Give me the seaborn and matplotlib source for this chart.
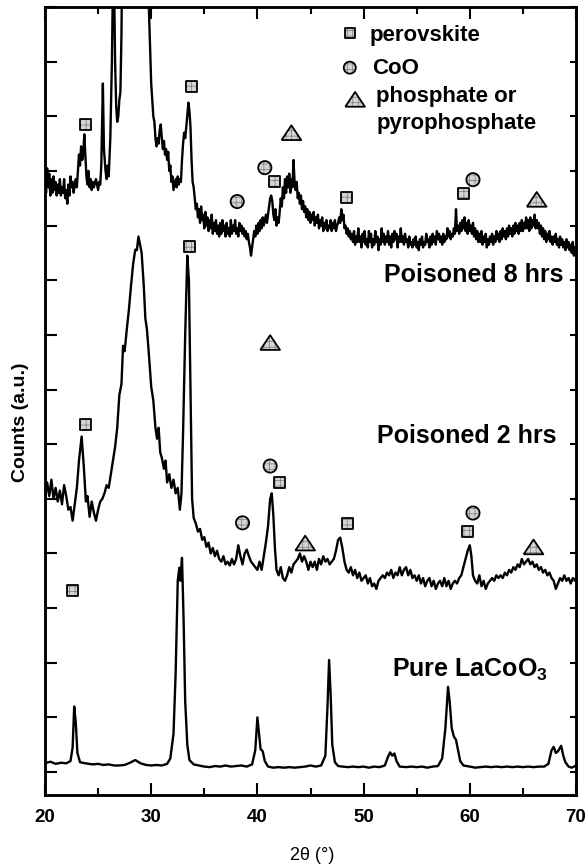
import matplotlib
matplotlib.use("Agg")
import matplotlib.pyplot as plt
import seaborn as sns

sns.set_theme(style="ticks")
plt.rcParams["font.family"] = ["Liberation Sans", "DejaVu Sans"]
plt.rcParams["mathtext.fontset"] = "custom"
plt.rcParams["mathtext.rm"] = "Liberation Sans:bold"
plt.rcParams["mathtext.bf"] = "Liberation Sans:bold"
plt.rcParams["hatch.linewidth"] = 0.5
for key in ["text.color", "axes.labelcolor", "xtick.color", "ytick.color", "axes.edgecolor"]:
    plt.rcParams[key] = "black"

# ---------------- data (2theta in degrees, offset counts in a.u.) ----------------
pure_x = [20.0, 20.5, 21.0, 21.5, 22.0, 22.4, 22.6, 22.75, 22.9, 23.05, 23.3, 23.8, 24.5, 25.0, 25.5,
          26.0, 26.5, 27.0, 27.5, 28.0, 28.5, 29.0, 29.5, 30.0, 30.5, 31.0, 31.5, 31.8, 32.1, 32.3,
          32.5, 32.65, 32.75, 32.9, 33.05, 33.2, 33.4, 33.6, 34.0, 34.5, 35.0, 35.5, 36.0, 36.5, 37.0,
          37.5, 38.0, 38.5, 39.0, 39.5, 39.8, 40.0, 40.15, 40.3, 40.5, 40.7, 41.0, 41.5, 42.0, 42.5,
          43.0, 43.5, 44.0, 44.5, 45.0, 45.5, 46.0, 46.4, 46.6, 46.75, 46.9, 47.05, 47.3, 47.6, 48.0,
          48.5, 49.0, 49.5, 50.0, 50.5, 51.0, 51.5, 52.0, 52.3, 52.5, 52.7, 52.9, 53.1, 53.4, 54.0,
          54.5, 55.0, 55.5, 56.0, 56.5, 57.0, 57.4, 57.7, 57.95, 58.1, 58.3, 58.5, 58.7, 58.9, 59.1,
          59.4, 60.0, 60.5, 61.0, 61.5, 62.0, 62.5, 63.0, 63.5, 64.0, 64.5, 65.0, 65.5, 66.0, 66.5,
          67.0, 67.4, 67.7, 67.9, 68.1, 68.3, 68.6, 68.8, 69.0, 69.3, 69.6, 70.0]
pure_y = [0.16, 0.19, 0.15, 0.17, 0.16, 0.2, 0.45, 1.2, 0.9, 0.35, 0.18, 0.16, 0.14, 0.15, 0.13,
          0.14, 0.12, 0.12, 0.13, 0.17, 0.22, 0.16, 0.13, 0.12, 0.13, 0.12, 0.15, 0.25, 0.7, 1.8,
          3.5, 3.74, 3.5, 3.92, 2.8, 1.3, 0.5, 0.22, 0.14, 0.12, 0.1, 0.09, 0.11, 0.1, 0.12,
          0.1, 0.11, 0.12, 0.1, 0.14, 0.4, 1.0, 0.7, 0.42, 0.38, 0.2, 0.1, 0.08, 0.09, 0.08,
          0.09, 0.08, 0.09, 0.1, 0.12, 0.1, 0.12, 0.3, 1.2, 2.05, 1.4, 0.5, 0.18, 0.11, 0.1,
          0.09, 0.1, 0.09, 0.1, 0.08, 0.1, 0.09, 0.12, 0.28, 0.36, 0.3, 0.34, 0.2, 0.1, 0.09,
          0.1, 0.09, 0.1, 0.08, 0.1, 0.11, 0.25, 0.8, 1.56, 1.3, 0.8, 0.65, 0.59, 0.4, 0.2,
          0.12, 0.1, 0.08, 0.09, 0.1, 0.09, 0.1, 0.09, 0.1, 0.09, 0.1, 0.09, 0.1, 0.09, 0.1,
          0.1, 0.15, 0.4, 0.46, 0.35, 0.38, 0.48, 0.3, 0.18, 0.1, 0.08, 0.12]

h2_x = [20.0, 20.2, 20.4, 20.6, 20.8, 21.0, 21.2, 21.4, 21.6, 21.8, 22.0, 22.2, 22.4, 22.6, 22.8,
        23.0, 23.2, 23.45, 23.65, 23.85, 24.0, 24.2, 24.4, 24.6, 24.8, 25.0, 25.2, 25.4, 25.6, 25.8,
        26.0, 26.2, 26.4, 26.6, 26.8, 27.0, 27.2, 27.35, 27.5, 27.7, 27.9, 28.1, 28.3, 28.5, 28.65,
        28.8, 28.95, 29.1, 29.3, 29.45, 29.6, 29.8, 30.0, 30.2, 30.4, 30.55, 30.7, 30.85, 31.0, 31.2,
        31.35, 31.5, 31.7, 31.9, 32.1, 32.3, 32.5, 32.7, 32.85, 33.0, 33.2, 33.4, 33.55, 33.7, 33.85,
        34.0, 34.2, 34.4, 34.6, 34.8, 35.0, 35.2, 35.4, 35.6, 35.8, 36.0, 36.2, 36.4, 36.6, 36.8,
        37.0, 37.2, 37.4, 37.6, 37.8, 38.0, 38.2, 38.4, 38.6, 38.8, 39.0, 39.2, 39.4, 39.6, 39.8,
        40.0, 40.2, 40.4, 40.6, 40.8, 41.0, 41.2, 41.35, 41.5, 41.65, 41.8, 42.0, 42.2, 42.4, 42.6,
        42.8, 43.0, 43.2, 43.4, 43.6, 43.8, 44.0, 44.2, 44.4, 44.6, 44.8, 45.0, 45.2, 45.4, 45.6,
        45.8, 46.0, 46.2, 46.4, 46.6, 46.8, 47.0, 47.2, 47.4, 47.6, 47.8, 48.0, 48.2, 48.4, 48.6,
        48.8, 49.0, 49.2, 49.4, 49.6, 49.8, 50.0, 50.2, 50.4, 50.6, 50.8, 51.0, 51.2, 51.4, 51.6,
        51.8, 52.0, 52.2, 52.4, 52.6, 52.8, 53.0, 53.2, 53.4, 53.6, 53.8, 54.0, 54.2, 54.4, 54.6,
        54.8, 55.0, 55.2, 55.4, 55.6, 55.8, 56.0, 56.2, 56.4, 56.6, 56.8, 57.0, 57.2, 57.4, 57.6,
        57.8, 58.0, 58.2, 58.4, 58.6, 58.8, 59.0, 59.2, 59.4, 59.6, 59.8, 60.0, 60.15, 60.3, 60.5,
        60.7, 60.9, 61.1, 61.3, 61.5, 61.7, 61.9, 62.1, 62.3, 62.5, 62.7, 62.9, 63.1, 63.3, 63.5,
        63.7, 63.9, 64.1, 64.3, 64.5, 64.7, 64.9, 65.1, 65.3, 65.5, 65.7, 65.9, 66.1, 66.3, 66.5,
        66.7, 66.9, 67.1, 67.3, 67.5, 67.7, 67.9, 68.1, 68.3, 68.5, 68.7, 68.9, 69.1, 69.3, 69.5,
        69.7, 69.9, 70.0]
h2_y = [4.98, 5.3, 5.05, 5.35, 5.0, 5.2, 4.95, 5.15, 4.9, 5.25, 5.05, 4.8, 4.85, 4.6, 4.9,
        5.2, 5.7, 6.14, 5.6, 4.95, 5.05, 4.67, 4.95, 4.75, 4.6, 4.8, 4.95, 5.0, 5.1, 5.25,
        5.2, 5.45, 5.7, 5.95, 6.3, 6.9, 7.1, 7.8, 7.7, 8.1, 8.46, 8.9, 9.3, 9.56, 9.55,
        9.8, 9.65, 9.5, 8.9, 8.3, 8.1, 7.6, 7.05, 6.8, 6.3, 6.1, 6.3, 5.85, 5.75, 5.55,
        5.7, 5.3, 5.45, 5.2, 5.35, 5.1, 5.2, 4.8, 5.1, 6.2, 8.0, 9.45, 9.0, 7.0, 5.0,
        4.65, 4.55, 4.4, 4.45, 4.25, 4.3, 4.12, 4.2, 4.0, 4.1, 3.95, 4.05, 3.9, 3.85, 3.95,
        3.8, 3.85, 3.78, 3.9, 3.8, 3.9, 4.15, 3.95, 3.8, 4.0, 4.07, 3.95, 3.85, 3.8, 3.75,
        3.7, 3.85, 3.7, 3.95, 4.2, 4.5, 5.0, 5.1, 4.7, 4.1, 3.7, 3.6, 3.75, 3.55, 3.5,
        3.6, 3.75, 3.65, 3.8, 3.85, 3.9, 4.0, 3.85, 3.95, 3.85, 3.7, 3.85, 3.75, 3.85, 3.7,
        3.9, 3.8, 3.95, 3.85, 3.9, 3.8, 3.85, 3.9, 4.05, 4.25, 4.29, 4.1, 3.85, 3.7, 3.65,
        3.75, 3.6, 3.7, 3.55, 3.65, 3.5, 3.55, 3.6, 3.45, 3.55, 3.4, 3.45, 3.35, 3.5, 3.55,
        3.6, 3.55, 3.65, 3.6, 3.7, 3.55, 3.65, 3.6, 3.75, 3.6, 3.7, 3.75, 3.6, 3.7, 3.55,
        3.6, 3.5, 3.6, 3.45, 3.55, 3.4, 3.5, 3.55, 3.4, 3.5, 3.35, 3.45, 3.5, 3.4, 3.55,
        3.4, 3.5, 3.35, 3.45, 3.5, 3.45, 3.55, 3.6, 3.75, 3.9, 4.05, 4.15, 3.95, 3.6, 3.5,
        3.45, 3.6, 3.4, 3.5, 3.35, 3.45, 3.5, 3.55, 3.5, 3.6, 3.55, 3.6, 3.55, 3.65, 3.6,
        3.7, 3.65, 3.75, 3.7, 3.8, 3.75, 3.9, 3.8, 3.85, 3.9, 3.8, 3.85, 3.75, 3.8, 3.7,
        3.75, 3.65, 3.7, 3.6, 3.65, 3.55, 3.5, 3.35, 3.45, 3.55, 3.5, 3.6, 3.5, 3.55, 3.45,
        3.55, 3.5, 3.55]

h8_x = [20.0, 20.1, 20.2, 20.3, 20.4, 20.5, 20.6, 20.7, 20.8, 20.9, 21.0, 21.1, 21.2, 21.3, 21.4,
        21.5, 21.6, 21.7, 21.8, 21.9, 22.0, 22.1, 22.2, 22.3, 22.4, 22.5, 22.6, 22.7, 22.8, 22.9,
        23.0, 23.1, 23.2, 23.3, 23.4, 23.5, 23.6, 23.7, 23.8, 23.9, 24.0, 24.1, 24.2, 24.3, 24.4,
        24.5, 24.6, 24.8, 25.0, 25.1, 25.2, 25.3, 25.45, 25.55, 25.7, 25.8, 25.9, 26.0, 26.15, 26.3,
        26.4, 26.5, 26.6, 26.7, 26.8, 26.9, 27.0, 27.1, 27.2, 27.25, 28.0, 29.0, 29.7, 29.9, 30.0,
        30.1, 30.2, 30.3, 30.4, 30.5, 30.6, 30.7, 30.8, 30.9, 31.0, 31.1, 31.2, 31.3, 31.4, 31.5,
        31.6, 31.7, 31.8, 31.9, 32.0, 32.1, 32.2, 32.3, 32.4, 32.5, 32.6, 32.7, 32.8, 32.9, 33.0,
        33.1, 33.2, 33.35, 33.5, 33.6, 33.7, 33.8, 33.9, 34.0, 34.1, 34.2, 34.3, 34.4, 34.5, 34.6,
        34.7, 34.8, 34.9, 35.0, 35.1, 35.2, 35.3, 35.4, 35.5, 35.6, 35.7, 35.8, 35.9, 36.0, 36.1,
        36.2, 36.3, 36.4, 36.5, 36.6, 36.7, 36.8, 36.9, 37.0, 37.1, 37.2, 37.3, 37.4, 37.5, 37.6,
        37.7, 37.8, 37.9, 38.0, 38.1, 38.2, 38.3, 38.4, 38.5, 38.6, 38.7, 38.8, 38.9, 39.0, 39.1,
        39.2, 39.3, 39.4, 39.5, 39.6, 39.7, 39.8, 39.9, 40.0, 40.1, 40.2, 40.3, 40.4, 40.5, 40.6,
        40.7, 40.8, 40.9, 41.0, 41.1, 41.2, 41.3, 41.4, 41.5, 41.6, 41.7, 41.8, 41.9, 42.0, 42.1,
        42.2, 42.3, 42.4, 42.5, 42.6, 42.7, 42.8, 42.9, 43.0, 43.1, 43.2, 43.3, 43.4, 43.5, 43.6,
        43.7, 43.8, 43.9, 44.0, 44.1, 44.2, 44.3, 44.4, 44.5, 44.6, 44.7, 44.8, 44.9, 45.0, 45.1,
        45.2, 45.3, 45.4, 45.5, 45.6, 45.7, 45.8, 45.9, 46.0, 46.1, 46.2, 46.3, 46.4, 46.5, 46.6,
        46.7, 46.8, 46.9, 47.0, 47.1, 47.2, 47.3, 47.4, 47.5, 47.6, 47.7, 47.8, 47.9, 48.0, 48.1,
        48.2, 48.3, 48.4, 48.5, 48.6, 48.7, 48.8, 48.9, 49.0, 49.1, 49.2, 49.3, 49.4, 49.5, 49.6,
        49.7, 49.8, 49.9, 50.0, 50.1, 50.2, 50.3, 50.4, 50.5, 50.6, 50.7, 50.8, 50.9, 51.0, 51.1,
        51.2, 51.3, 51.4, 51.5, 51.6, 51.7, 51.8, 51.9, 52.0, 52.1, 52.2, 52.3, 52.4, 52.5, 52.6,
        52.7, 52.8, 52.9, 53.0, 53.1, 53.2, 53.3, 53.4, 53.5, 53.6, 53.7, 53.8, 53.9, 54.0, 54.1,
        54.2, 54.3, 54.4, 54.5, 54.6, 54.7, 54.8, 54.9, 55.0, 55.1, 55.2, 55.3, 55.4, 55.5, 55.6,
        55.7, 55.8, 55.9, 56.0, 56.1, 56.2, 56.3, 56.4, 56.5, 56.6, 56.7, 56.8, 56.9, 57.0, 57.1,
        57.2, 57.3, 57.4, 57.5, 57.6, 57.7, 57.8, 57.9, 58.0, 58.1, 58.2, 58.3, 58.4, 58.5, 58.6,
        58.7, 58.8, 58.9, 59.0, 59.1, 59.2, 59.3, 59.4, 59.5, 59.6, 59.7, 59.8, 59.9, 60.0, 60.1,
        60.2, 60.3, 60.4, 60.5, 60.6, 60.7, 60.8, 60.9, 61.0, 61.1, 61.2, 61.3, 61.4, 61.5, 61.6,
        61.7, 61.8, 61.9, 62.0, 62.1, 62.2, 62.3, 62.4, 62.5, 62.6, 62.7, 62.8, 62.9, 63.0, 63.1,
        63.2, 63.3, 63.4, 63.5, 63.6, 63.7, 63.8, 63.9, 64.0, 64.1, 64.2, 64.3, 64.4, 64.5, 64.6,
        64.7, 64.8, 64.9, 65.0, 65.1, 65.2, 65.3, 65.4, 65.5, 65.6, 65.7, 65.8, 65.9, 66.0, 66.1,
        66.2, 66.3, 66.4, 66.5, 66.6, 66.7, 66.8, 66.9, 67.0, 67.1, 67.2, 67.3, 67.4, 67.5, 67.6,
        67.7, 67.8, 67.9, 68.0, 68.1, 68.2, 68.3, 68.4, 68.5, 68.6, 68.7, 68.8, 68.9, 69.0, 69.1,
        69.2, 69.3, 69.4, 69.5, 69.6, 69.7, 69.8, 69.9, 70.0]
h8_y = [10.9, 10.6, 11.05, 10.7, 10.95, 10.55, 10.85, 10.6, 10.9, 10.65, 10.8, 10.55, 10.75, 10.6, 10.85,
        10.55, 10.7, 10.6, 10.85, 10.5, 10.65, 10.4, 10.75, 10.55, 10.9, 10.7, 10.8, 10.6, 10.75, 10.85,
        10.7, 11.0, 11.3, 11.1, 11.45, 11.2, 11.3, 11.67, 11.3, 10.9, 10.75, 11.0, 10.7, 10.85, 10.65,
        10.8, 10.7, 10.85, 10.65, 10.8, 10.75, 11.1, 12.6, 11.4, 11.0, 10.85, 11.1, 10.9, 11.6, 13.0,
        14.5, 14.5, 13.0, 12.2, 11.9, 12.0, 12.3, 12.44, 13.5, 14.5, 16.0, 16.0, 14.5, 13.2, 12.6,
        12.3, 12.0, 11.9, 11.6, 11.45, 11.6, 11.5, 11.75, 11.85, 11.6, 11.4, 11.55, 11.3, 11.4, 11.2,
        11.35, 11.0, 11.1, 10.8, 10.9, 10.65, 10.75, 10.85, 10.7, 10.9, 10.75, 10.85, 10.8, 11.2, 11.5,
        11.7, 11.6, 11.9, 12.25, 12.1, 11.8, 11.2, 10.8, 10.7, 10.5, 10.3, 10.4, 10.15, 10.3, 10.05,
        10.35, 10.1, 10.2, 9.95, 10.25, 10.0, 10.15, 9.9, 10.1, 9.95, 10.2, 9.85, 10.05, 9.9, 10.1,
        9.85, 10.0, 9.8, 10.05, 9.85, 10.1, 9.9, 10.0, 9.8, 10.05, 9.85, 9.95, 9.8, 10.1, 9.85,
        10.0, 9.9, 10.1, 9.85, 9.95, 9.8, 10.05, 9.9, 10.0, 9.85, 9.95, 9.8, 9.9, 9.75, 9.85,
        9.7, 9.6, 9.45, 9.6, 9.75, 9.9, 9.8, 10.0, 9.85, 10.05, 9.9, 10.1, 9.95, 10.15, 10.0,
        10.1, 10.2, 10.05, 10.2, 10.35, 10.5, 10.55, 10.45, 10.2, 10.1, 10.3, 10.0, 10.15, 10.05, 10.25,
        10.5, 10.35, 10.7, 10.5, 10.85, 10.6, 10.9, 10.7, 10.95, 10.6, 10.85, 10.7, 11.2, 10.8, 10.65,
        10.8, 10.5, 10.6, 10.4, 10.55, 10.3, 10.45, 10.25, 10.35, 10.15, 10.3, 10.1, 10.25, 10.05, 10.2,
        10.1, 10.25, 10.0, 10.15, 10.05, 10.2, 9.95, 10.1, 10.0, 10.15, 9.9, 10.05, 9.95, 10.1, 9.9,
        10.0, 9.95, 10.1, 9.9, 10.05, 9.95, 10.1, 9.9, 10.0, 10.05, 10.15, 10.05, 10.3, 10.1, 10.2,
        9.95, 10.0, 9.85, 9.95, 9.8, 9.9, 9.75, 9.85, 9.7, 9.9, 9.65, 9.8, 9.7, 9.95, 9.7,
        9.8, 9.6, 9.85, 9.7, 9.9, 9.65, 9.75, 9.6, 9.9, 9.7, 9.85, 9.6, 9.75, 9.65, 9.9,
        9.7, 9.8, 9.55, 9.75, 9.65, 9.95, 9.7, 9.85, 9.65, 9.8, 9.7, 9.9, 9.65, 9.8, 9.6,
        9.85, 9.7, 9.9, 9.75, 9.85, 9.6, 9.8, 9.7, 9.95, 9.7, 9.8, 9.65, 9.85, 9.7, 9.75,
        9.6, 9.8, 9.65, 9.7, 9.6, 9.75, 9.65, 9.8, 9.6, 9.7, 9.55, 9.75, 9.65, 9.8, 9.6,
        9.7, 9.65, 9.85, 9.7, 9.75, 9.6, 9.8, 9.65, 9.85, 9.7, 9.8, 9.65, 9.9, 9.75, 9.85,
        9.7, 9.8, 9.65, 9.85, 9.7, 9.8, 9.75, 9.95, 9.8, 9.9, 9.75, 9.85, 9.8, 9.95, 9.85,
        10.3, 9.9, 10.0, 9.85, 10.05, 9.9, 10.1, 9.95, 10.15, 9.9, 10.05, 9.85, 10.1, 9.9, 10.0,
        9.85, 10.05, 9.8, 9.95, 9.75, 9.9, 9.7, 9.85, 9.7, 9.9, 9.65, 9.8, 9.7, 9.85, 9.6,
        9.75, 9.65, 9.8, 9.7, 9.85, 9.65, 9.8, 9.7, 9.9, 9.75, 9.85, 9.7, 9.9, 9.75, 9.95,
        9.8, 9.9, 9.75, 9.95, 9.8, 10.0, 9.85, 9.95, 9.8, 10.0, 9.85, 10.05, 9.9, 10.0, 9.85,
        10.05, 9.9, 10.1, 9.9, 10.05, 9.95, 10.15, 9.95, 10.1, 9.9, 10.15, 9.95, 10.1, 10.0, 10.2,
        9.95, 10.1, 9.95, 10.05, 9.85, 10.0, 9.8, 9.95, 9.75, 9.9, 9.7, 9.85, 9.75, 9.9, 9.7,
        9.8, 9.65, 9.8, 9.7, 9.85, 9.65, 9.75, 9.6, 9.8, 9.65, 9.75, 9.6, 9.7, 9.55, 9.75,
        9.6, 9.7, 9.55, 9.65, 9.5, 9.7, 9.45, 9.6, 9.55]

# phase markers (2theta, offset height)
perov_x = [23.8, 33.8, 41.6, 48.4, 59.4, 33.65, 23.8, 42.1, 48.5, 59.8, 22.6]
perov_y = [11.85, 12.55, 10.81, 10.51, 10.58, 9.62, 6.36, 5.29, 4.54, 4.4, 3.33]
coo_x = [40.7, 38.1, 60.3, 41.2, 38.6, 60.3]
coo_y = [11.06, 10.44, 10.84, 5.6, 4.56, 4.74]
phos_x = [43.2, 66.3, 41.2, 44.5, 66.0]
phos_y = [11.7, 10.48, 7.86, 4.19, 4.12]

legend_labels = ["perovskite", "CoO", "phosphate or\npyrophosphate"]
trace_labels = ["Poisoned 8 hrs", "Poisoned 2 hrs", "Pure LaCoO$_3$"]
xticks = [20, 30, 40, 50, 60, 70]

# ---------------- figure ----------------
fig = plt.figure(figsize=(5.88, 8.68), dpi=100)
ax = fig.add_axes([45 / 588, 1 - 795 / 868, 531 / 588, 788 / 868])

for xs, ys in [(pure_x, pure_y), (h2_x, h2_y), (h8_x, h8_y)]:
    sns.lineplot(x=xs, y=ys, ax=ax, color="black", linewidth=1.7, sort=False,
                 estimator=None, legend=False)

tri = [(-1, -0.75), (1, -0.75), (0, 0.75), (-1, -0.75)]


def marks(xs, ys, marker, s):
    sns.scatterplot(x=xs, y=ys, ax=ax, marker=marker, s=s, color="#d4d4d4",
                    edgecolor="#7a7a7a", linewidth=0, hatch="+++", zorder=5, legend=False)
    sns.scatterplot(x=xs, y=ys, ax=ax, marker=marker, s=s, color="none",
                    edgecolor="black", linewidth=1.3, zorder=6, legend=False)


marks(perov_x, perov_y, "s", 63)
marks(coo_x, coo_y, "o", 90)
marks(phos_x, phos_y, tri, 200)

# legend-like key
marks([48.7], [13.53], "s", 52)
marks([48.7], [12.89], "o", 75)
marks([49.2], [12.31], tri, 200)
kw = dict(fontsize=16, fontweight="bold", ha="left", va="baseline", color="black")
ax.text(50.6, 13.37, legend_labels[0], **kw)
ax.text(50.8, 12.77, legend_labels[1], **kw)
ax.text(51.2, 12.27, "phosphate or", **kw)
ax.text(51.2, 11.76, "pyrophosphate", **kw)

lk = dict(fontsize=18, fontweight="bold", va="baseline", color="black")
ax.text(68.8, 8.97, trace_labels[0], ha="right", **lk)
ax.text(68.2, 6.03, trace_labels[1], ha="right", **lk)
ax.text(52.7, 1.74, trace_labels[2], ha="left", **lk)

ax.set_xlim(20, 70)
ax.set_ylim(-0.42, 14.0)
ax.set_xticks(xticks)
ax.set_xticks([25, 35, 45, 55, 65], minor=True)
ax.set_yticks(range(15))
ax.set_yticklabels([])
ax.set_xlabel("")
ax.set_ylabel("")
ax.tick_params(axis="x", which="major", direction="in", length=8.6, width=1.5, top=True,
               pad=10, labelsize=13.5, color="black", labelcolor="black")
ax.tick_params(axis="x", which="minor", direction="in", length=5, width=1.5, top=True,
               color="black")
ax.tick_params(axis="y", which="major", direction="in", length=8.6, width=1.5, left=True,
               right=False, color="black")
for lab in ax.get_xticklabels():
    lab.set_fontweight("bold")
for sp in ax.spines.values():
    sp.set_linewidth(1.8)
    sp.set_color("black")

ax2 = ax.twinx()
ax2.set_ylim(-0.42, 14.0)
ax2.set_yticks(range(15))
ax2.set_yticklabels([])
ax2.tick_params(axis="y", direction="in", length=4.5, width=1.5, right=True, left=False,
                color="black")
for sp in ax2.spines.values():
    sp.set_linewidth(1.8)
    sp.set_color("black")

fig.text(312 / 588, 1 - 855 / 868, "2θ (°)", ha="center", va="center", fontsize=13,
         color="black")
fig.text(21 / 588, 1 - 422 / 868, "Counts (a.u.)", ha="center", va="center",
         rotation=90, fontsize=14, fontweight="bold", color="black")

fig.savefig("out.png", dpi=100)
